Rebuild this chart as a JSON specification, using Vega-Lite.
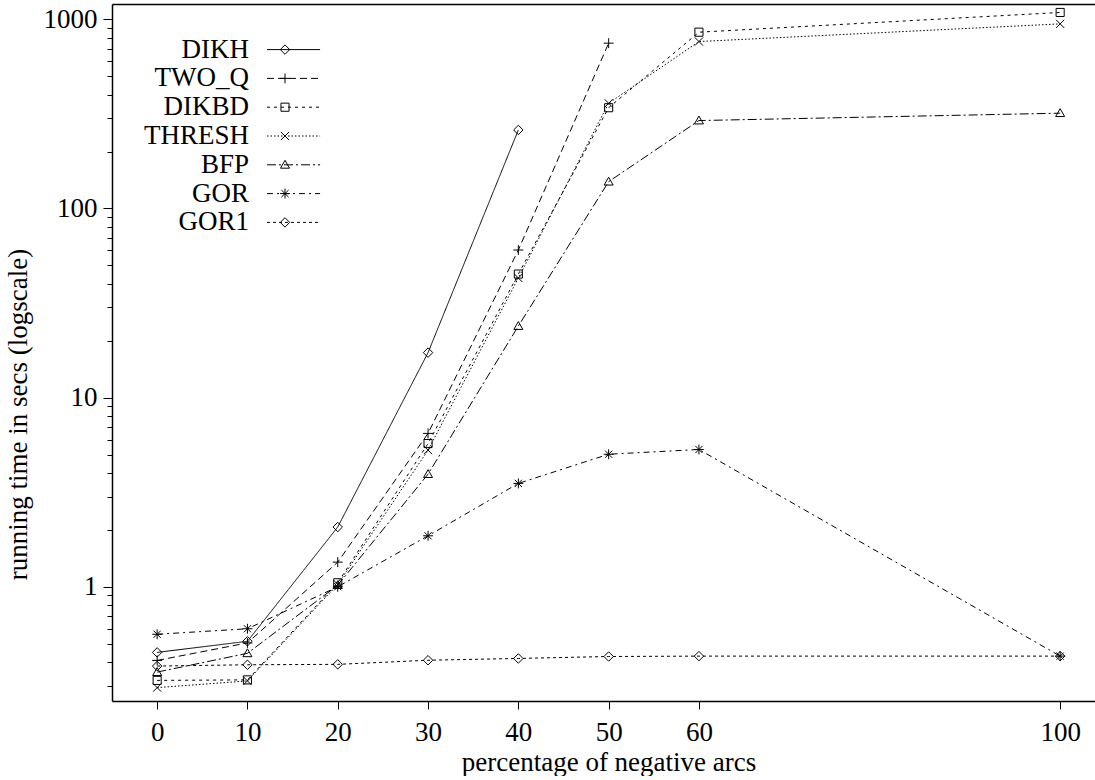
{
  "$schema": "https://vega.github.io/schema/vega-lite/v6.json",
  "autosize": "none",
  "width": 983,
  "height": 697,
  "padding": {"left": 112, "top": 4, "right": 0, "bottom": 75},
  "background": "white",
  "config": {
    "view": {"stroke": null},
    "font": "Liberation Serif",
    "axis": {
      "grid": false,
      "domainColor": "black",
      "domainWidth": 1.5,
      "tickColor": "black",
      "tickWidth": 1,
      "labelFont": "Liberation Serif",
      "labelFontSize": 27,
      "labelColor": "black",
      "titleFont": "Liberation Serif",
      "titleFontSize": 27,
      "titleFontWeight": "normal",
      "titleColor": "black"
    }
  },
  "data": {
    "values": [
      {"series": "DIKH", "pct": 0, "time": 0.45},
      {"series": "DIKH", "pct": 10, "time": 0.515},
      {"series": "DIKH", "pct": 20, "time": 2.07},
      {"series": "DIKH", "pct": 30, "time": 17.3},
      {"series": "DIKH", "pct": 40, "time": 260},
      {"series": "TWO_Q", "pct": 0, "time": 0.408},
      {"series": "TWO_Q", "pct": 10, "time": 0.505},
      {"series": "TWO_Q", "pct": 20, "time": 1.35},
      {"series": "TWO_Q", "pct": 30, "time": 6.47},
      {"series": "TWO_Q", "pct": 40, "time": 60.3},
      {"series": "TWO_Q", "pct": 50, "time": 748},
      {"series": "DIKBD", "pct": 0, "time": 0.32},
      {"series": "DIKBD", "pct": 10, "time": 0.322},
      {"series": "DIKBD", "pct": 20, "time": 1.05},
      {"series": "DIKBD", "pct": 30, "time": 5.72},
      {"series": "DIKBD", "pct": 40, "time": 45.0},
      {"series": "DIKBD", "pct": 50, "time": 341},
      {"series": "DIKBD", "pct": 60, "time": 855},
      {"series": "DIKBD", "pct": 100, "time": 1087},
      {"series": "THRESH", "pct": 0, "time": 0.293},
      {"series": "THRESH", "pct": 10, "time": 0.318},
      {"series": "THRESH", "pct": 20, "time": 1.03},
      {"series": "THRESH", "pct": 30, "time": 5.28},
      {"series": "THRESH", "pct": 40, "time": 42.9},
      {"series": "THRESH", "pct": 50, "time": 360},
      {"series": "THRESH", "pct": 60, "time": 763},
      {"series": "THRESH", "pct": 100, "time": 946},
      {"series": "BFP", "pct": 0, "time": 0.354},
      {"series": "BFP", "pct": 10, "time": 0.445},
      {"series": "BFP", "pct": 20, "time": 1.02},
      {"series": "BFP", "pct": 30, "time": 3.94},
      {"series": "BFP", "pct": 40, "time": 23.9},
      {"series": "BFP", "pct": 50, "time": 138.6},
      {"series": "BFP", "pct": 60, "time": 291.6},
      {"series": "BFP", "pct": 100, "time": 319},
      {"series": "GOR", "pct": 0, "time": 0.561},
      {"series": "GOR", "pct": 10, "time": 0.6},
      {"series": "GOR", "pct": 20, "time": 1.0},
      {"series": "GOR", "pct": 30, "time": 1.86},
      {"series": "GOR", "pct": 40, "time": 3.52},
      {"series": "GOR", "pct": 50, "time": 5.02},
      {"series": "GOR", "pct": 60, "time": 5.32},
      {"series": "GOR", "pct": 100, "time": 0.43},
      {"series": "GOR1", "pct": 0, "time": 0.381},
      {"series": "GOR1", "pct": 10, "time": 0.387},
      {"series": "GOR1", "pct": 20, "time": 0.389},
      {"series": "GOR1", "pct": 30, "time": 0.409},
      {"series": "GOR1", "pct": 40, "time": 0.418},
      {"series": "GOR1", "pct": 50, "time": 0.428},
      {"series": "GOR1", "pct": 60, "time": 0.43},
      {"series": "GOR1", "pct": 100, "time": 0.43}
    ]
  },
  "layer": [
    {
      "mark": {"type": "line", "color": "black", "strokeWidth": 1},
      "encoding": {
        "x": {
          "field": "pct", "type": "quantitative",
          "scale": {"domain": [-5, 103.86], "nice": false, "zero": false},
          "axis": {
            "orient": "bottom",
            "values": [0, 10, 20, 30, 40, 50, 60, 100],
            "tickSize": 8,
            "labelPadding": 10,
            "labelFlush": false,
            "title": "percentage of negative arcs",
            "titleX": 496.5,
            "titleY": 69,
            "titleBaseline": "alphabetic",
            "titleAnchor": "middle",
            "titleAlign": "center"
          }
        },
        "y": {
          "field": "time", "type": "quantitative",
          "scale": {"type": "log", "domain": [0.249, 1205], "nice": false},
          "axis": {
            "orient": "left",
            "values": [1, 10, 100, 1000],
            "format": "d",
            "tickSize": 9,
            "labelPadding": 6,
            "title": "running time in secs (logscale)",
            "titleAngle": -90,
            "titleX": -86,
            "titleY": 410,
            "titleAlign": "center",
            "titleBaseline": "alphabetic"
          }
        },
        "strokeDash": {
          "field": "series", "type": "nominal",
          "scale": {
            "domain": ["DIKH", "TWO_Q", "DIKBD", "THRESH", "BFP", "GOR", "GOR1"],
            "range": [[1, 0], [7, 4], [3, 4], [1.5, 2], [9, 3, 2, 3], [6, 4, 2, 4], [3, 3]]
          },
          "legend": {
            "orient": "none",
            "legendX": 159.5,
            "legendY": 32.1,
            "title": null,
            "padding": 0,
            "symbolType": "M-4,0H7.8",
            "symbolSize": 81,
            "symbolStrokeWidth": 1,
            "symbolStrokeColor": "black",
            "labelAlign": "right",
            "labelOffset": -49.5,
            "labelFont": "Liberation Serif",
            "labelFontSize": 27,
            "labelColor": "black",
            "labelLimit": 0,
            "rowPadding": 0.8
          }
        }
      }
    },
    {
      "mark": {"type": "point", "filled": false, "color": "black", "strokeWidth": 1, "size": 81, "opacity": 1},
      "encoding": {
        "x": {
          "field": "pct", "type": "quantitative",
          "axis": {"orient": "top", "ticks": false, "labels": false, "domain": true, "title": null}
        },
        "y": {
          "field": "time", "type": "quantitative",
          "axis": {
            "orient": "left",
            "values": [0.3, 0.4, 0.5, 0.6, 0.7, 0.8, 0.9, 2, 3, 4, 5, 6, 7, 8, 9, 20, 30, 40, 50, 60, 70, 80, 90, 200, 300, 400, 500, 600, 700, 800, 900],
            "tickSize": 5,
            "labels": false,
            "domain": false,
            "title": null
          }
        },
        "shape": {
          "field": "series", "type": "nominal",
          "scale": {
            "domain": ["BFP", "DIKBD", "DIKH", "GOR", "GOR1", "THRESH", "TWO_Q"],
            "range": [
              "M0,-1L1,0.75H-1Z",
              "M-0.9,-0.9H0.9V0.9H-0.9Z",
              "M0,-1.05L1.05,0L0,1.05L-1.05,0Z",
              "M-1.1,0H1.1M0,-1.1V1.1M-0.8,-0.8L0.8,0.8M-0.8,0.8L0.8,-0.8",
              "M0,-1.05L1.05,0L0,1.05L-1.05,0Z",
              "M-0.9,-0.9L0.9,0.9M-0.9,0.9L0.9,-0.9",
              "M-1.1,0H1.1M0,-1.1V1.1"
            ]
          },
          "legend": {
            "orient": "none",
            "legendX": 159.5,
            "legendY": 32.1,
            "title": null,
            "padding": 0,
            "values": ["DIKH", "TWO_Q", "DIKBD", "THRESH", "BFP", "GOR", "GOR1"],
            "symbolSize": 81,
            "symbolStrokeWidth": 1,
            "symbolStrokeColor": "black",
            "symbolFillColor": "white",
            "labelAlign": "right",
            "labelOffset": -49.5,
            "labelFont": "Liberation Serif",
            "labelFontSize": 27,
            "labelColor": "transparent",
            "labelLimit": 0,
            "rowPadding": 0.8
          }
        }
      }
    }
  ],
  "resolve": {"axis": {"x": "independent", "y": "independent"}}
}
